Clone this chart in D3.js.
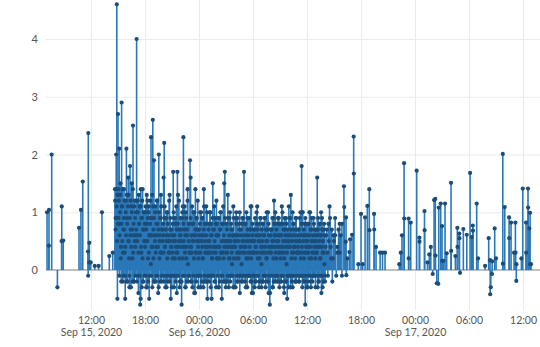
<!DOCTYPE html>
<html>
<head>
<meta charset="utf-8">
<script src="https://cdn.jsdelivr.net/npm/d3@7"></script>
<style>
  html, body { margin: 0; padding: 0; background: #fff; }
  svg { display: block; }
  .tick text { font-family: "Liberation Sans Narrow", "Lato", sans-serif; fill: #555; }
</style>
</head>
<body>
<svg id="chart" width="540" height="347"></svg>
<script>
// ---------------- DATA ----------------
// Sparse points before the dense burst (Sep 15 morning)
const leftTimes = ["2020-09-15 07:07","2020-09-15 07:19","2020-09-15 07:20","2020-09-15 07:38","2020-09-15 08:16",
  "2020-09-15 08:44","2020-09-15 08:45","2020-09-15 08:55","2020-09-15 10:40","2020-09-15 10:53","2020-09-15 11:05",
  "2020-09-15 11:40","2020-09-15 11:41","2020-09-15 11:42","2020-09-15 11:48","2020-09-15 11:49","2020-09-15 11:58",
  "2020-09-15 12:25","2020-09-15 12:51","2020-09-15 13:13","2020-09-15 14:02","2020-09-15 14:25"];
const leftValues = [1.0,0.42,1.04,2.0,-0.3,0.5,1.1,0.51,0.73,1.04,1.53,0.32,-0.1,2.37,0.13,0.47,0.13,0.07,0.07,1.0,0.24,0.3];

// Dense burst: one row per hour, values evenly spread through the hour
const denseHours = ["2020-09-15 14:40","2020-09-15 15:00","2020-09-15 16:00","2020-09-15 17:00","2020-09-15 18:00",
  "2020-09-15 19:00","2020-09-15 20:00","2020-09-15 21:00","2020-09-15 22:00","2020-09-15 23:00",
  "2020-09-16 00:00","2020-09-16 01:00","2020-09-16 02:00","2020-09-16 03:00","2020-09-16 04:00",
  "2020-09-16 05:00","2020-09-16 06:00","2020-09-16 07:00","2020-09-16 08:00","2020-09-16 09:00",
  "2020-09-16 10:00","2020-09-16 11:00","2020-09-16 12:00","2020-09-16 13:00","2020-09-16 14:00","2020-09-16 15:00"];
const denseSpanMin = [20,60,60,60,60,60,60,60,60,60,60,60,60,60,60,60,60,60,60,60,60,60,60,60,60,60];
// main readings (includes the spikes)
const denseRows = [
  [1.4,0.9,2.0,4.6,-0.5],
  [2.7,1.3,2.1,0.8,1.5,0.4,2.9,1.1,-0.2,0.7,1.4,0.3,-0.5,1.2,2.1],
  [0.9,1.3,1.6,0.5,-0.3,1.8,0.7,1.1,1.5,0.2,2.5,0.6,-0.2,1.2,0.4],
  [1.0,4.0,0.6,1.2,-0.4,0.8,1.1,-0.6,1.4,0.3,0.9,1.4,-0.2,0.7,1.0],
  [0.5,1.1,-0.3,0.8,1.2,0.2,1.0,-0.5,0.6,0.9,2.3,0.4,1.3,2.6,0.7],
  [1.9,0.6,1.0,-0.2,0.4,1.2,0.8,-0.4,2.0,0.5,0.9,0.3,1.1,-0.1,0.7],
  [0.8,1.6,2.2,0.4,-0.3,0.9,0.6,1.0,-0.2,0.5,0.3,1.3,0.7,-0.5,0.4],
  [0.6,0.2,1.7,0.9,-0.1,0.5,0.8,0.3,-0.4,1.7,1.3,0.4,0.7,-0.2,0.6],
  [0.5,-0.6,0.9,1.1,2.3,0.4,0.7,-0.3,1.0,0.2,0.6,1.4,-0.1,0.8,0.3],
  [1.9,1.6,0.4,-0.2,0.8,0.5,1.0,-0.4,0.6,1.4,0.3,0.9,-0.1,0.7,0.2],
  [0.7,0.3,1.0,-0.3,0.5,0.9,0.2,0.6,1.4,-0.2,0.8,0.4,1.1,0.3,-0.5],
  [0.5,0.8,-0.1,0.3,1.0,0.6,-0.5,0.2,1.5,0.7,0.4,-0.2,0.9,0.3,1.2],
  [0.6,0.2,0.9,-0.3,0.4,0.7,1.0,0.3,-0.5,0.5,0.8,0.2,1.5,1.7,0.4],
  [0.3,0.8,-0.2,1.3,0.5,0.2,0.9,-0.1,0.4,0.7,0.1,0.6,-0.3,0.9,0.4],
  [0.5,0.9,1.0,0.2,-0.2,0.6,0.3,0.8,-0.4,0.4,0.7,0.1,0.9,-0.1,0.5],
  [1.7,0.4,0.8,-0.3,0.2,0.6,0.9,0.3,-0.1,0.5,0.7,1.1,0.2,-0.4,0.6],
  [-0.4,0.5,0.3,0.7,-0.2,0.4,0.8,1.1,0.2,0.6,-0.3,0.5,0.9,0.3,0.1],
  [0.4,0.8,-0.2,0.6,0.3,0.9,-0.1,0.5,0.2,0.7,1.0,-0.4,0.4,-0.6,0.6],
  [0.3,0.7,0.5,-0.3,0.9,1.2,0.4,-0.2,0.6,0.2,0.8,-0.1,0.5,0.9,0.3],
  [0.6,0.2,-0.2,1.1,0.4,0.8,0.3,-0.4,0.7,0.5,0.9,0.1,-0.5,0.6,0.4],
  [0.5,0.9,-0.1,1.3,0.6,0.3,-0.3,0.8,0.4,0.7,0.2,-0.2,0.9,0.5,0.3],
  [0.4,0.7,-0.2,0.5,1.0,0.3,1.8,1.0,-0.1,0.6,0.2,0.8,-0.6,0.5,0.3],
  [0.6,-0.3,0.4,0.8,0.2,1.0,-0.2,0.5,0.7,0.3,-0.1,0.9,0.4,0.6,0.2],
  [0.5,0.3,1.6,0.7,-0.2,0.4,0.8,0.2,0.6,-0.4,0.9,0.3,0.5,0.7,0.1],
  [-0.2,0.6,0.3,0.8,1.1,0.4,0.7,0.2],
  [0.5,0.9,-0.1,0.4,0.7,0.3,0.6,0.8]
];
// additional readings in the same hours (interleaved between the main ones)
const denseRowsExtra = [
  [1.2,0.7,1.4,0.9,1.1,0.5,1.3,0.8],
  [1.4,0.9,1.2,-0.1,0.6,1.0,1.3,0.2,-0.2,0.8,1.1,0.5,1.4,0.3,-0.1,0.9,0.7,1.2,-0.1,0.4,1.0,0.6,-0.2,1.3],
  [0.8,-0.2,1.1,0.5,1.3,0.2,-0.1,0.9,0.6,1.2,-0.3,0.4,1.0,0.7,-0.2,1.4,0.3,0.8,-0.2,1.1,0.5,0.9,-0.1,0.6],
  [0.7,1.2,-0.2,0.5,1.0,-0.1,0.3,1.3,0.8,-0.1,0.6,1.1,-0.5,0.4,0.9,-0.3,1.2,0.2,0.7,-0.2,1.0,0.5,-0.1,0.8],
  [0.4,1.0,-0.1,0.7,1.3,-0.3,0.5,0.9,-0.2,1.1,0.3,0.6,-0.1,0.8,1.2,0.1,-0.1,0.6,0.9,-0.3,0.4,1.1,0.2,-0.2],
  [0.9,-0.2,0.5,1.1,0.3,-0.1,0.8,0.6,1.2,-0.1,0.4,0.7,-0.3,1.0,0.2,0.6,-0.2,0.9,1.3,0.3,-0.2,0.7,0.5,-0.1],
  [0.6,0.3,-0.2,0.9,1.1,0.4,-0.1,0.7,0.5,-0.3,1.0,0.2,0.8,-0.1,0.6,0.3,1.2,-0.2,0.5,0.9,-0.1,0.4,0.7,-0.3],
  [0.3,0.8,-0.1,0.5,1.0,-0.3,0.6,0.2,0.9,-0.2,0.4,1.1,0.7,-0.1,0.3,0.8,-0.1,0.5,1.2,0.2,-0.3,0.6,0.9,-0.2],
  [0.7,-0.2,0.4,1.0,0.2,-0.1,0.8,0.5,-0.1,1.1,0.3,0.6,-0.3,0.9,0.4,-0.2,0.7,1.2,0.1,-0.2,0.5,0.8,-0.1,0.3],
  [0.4,0.9,-0.2,0.6,0.3,1.1,-0.3,0.5,0.8,-0.1,0.2,1.0,0.6,-0.4,0.7,0.3,-0.2,0.9,0.5,-0.1,1.2,0.4,-0.3,0.6],
  [0.5,-0.1,0.8,0.3,-0.1,1.0,0.6,-0.2,0.4,0.9,0.2,-0.3,0.7,1.1,-0.1,0.5,0.3,-0.2,0.8,0.6,-0.2,1.0,0.4,-0.1],
  [0.3,0.7,-0.2,0.5,1.0,-0.1,0.4,-0.3,0.8,0.6,0.2,-0.1,0.9,0.3,-0.1,0.7,1.1,0.5,-0.2,0.4,0.8,-0.3,0.6,0.2],
  [0.8,-0.1,0.4,0.6,-0.3,0.9,0.2,-0.2,0.7,1.0,0.3,-0.1,0.5,0.8,-0.1,0.3,1.1,-0.2,0.6,0.4,-0.2,0.9,0.5,-0.3],
  [0.5,-0.2,0.7,0.3,-0.1,0.9,0.4,-0.3,0.6,0.2,1.0,-0.2,0.5,0.8,-0.1,0.3,0.7,-0.1,0.4,1.1,0.2,-0.3,0.6,0.5],
  [0.4,-0.3,0.6,0.8,-0.1,0.3,0.9,-0.2,0.5,0.2,-0.1,0.7,1.0,0.3,-0.1,0.6,0.4,-0.2,0.8,0.5,-0.2,0.3,0.9,-0.1],
  [0.6,0.3,-0.2,0.8,0.4,-0.1,1.0,0.5,-0.3,0.7,0.2,-0.1,0.6,0.9,-0.1,0.4,0.7,-0.2,0.3,1.1,-0.2,0.5,0.8,-0.1],
  [0.3,0.7,-0.1,0.5,-0.3,0.9,0.4,-0.2,0.6,1.0,-0.1,0.3,0.7,-0.1,0.5,0.8,-0.2,0.2,0.6,-0.2,0.9,0.4,-0.3,0.7],
  [0.5,-0.2,0.8,0.3,-0.1,0.6,0.9,-0.1,0.4,-0.3,0.7,0.2,1.0,-0.2,0.5,0.3,-0.2,0.8,0.6,-0.1,0.4,-0.4,0.7,0.3],
  [0.7,-0.1,0.4,0.9,-0.3,0.5,0.2,-0.2,0.8,0.6,-0.1,1.0,0.3,-0.1,0.7,0.5,-0.2,0.4,0.9,-0.2,0.6,0.3,-0.3,0.8],
  [0.4,0.8,-0.2,0.6,-0.1,0.3,1.0,-0.1,0.5,0.7,-0.3,0.2,0.9,-0.2,0.6,0.4,-0.2,0.8,0.3,-0.1,0.7,0.5,-0.3,1.1],
  [0.6,-0.1,0.4,0.9,-0.3,0.7,0.2,-0.2,0.5,1.0,-0.1,0.3,0.8,-0.1,0.6,0.4,-0.2,0.9,0.5,-0.2,0.7,0.3,-0.1,0.6],
  [0.3,0.7,-0.2,0.5,0.9,-0.1,0.6,0.2,-0.1,0.8,0.4,-0.3,1.0,0.5,-0.2,0.7,0.3,-0.2,0.6,0.9,-0.1,0.4,0.8,-0.3],
  [0.5,-0.2,0.8,0.3,-0.1,0.6,1.0,-0.1,0.4,0.7,-0.3,0.2,0.9,0.5,-0.2,0.6,-0.1,0.3,0.8,-0.1,0.5,0.7,-0.3,0.4],
  [0.7,0.3,-0.1,0.6,-0.3,0.9,0.4,-0.2,0.5,0.8,-0.1,0.2,0.6,1.0,-0.1,0.4,0.7,-0.3,0.5,0.3,-0.2,0.8,0.6,-0.1],
  [0.4,0.7,-0.1,0.5,0.9,0.2,-0.2,0.6],
  [0.6,0.3,0.8,-0.1]
];

// Sparse points after the burst (Sep 16 afternoon – Sep 17)
const rightTimes = ["2020-09-16 16:06","2020-09-16 16:08","2020-09-16 16:18","2020-09-16 16:20","2020-09-16 16:22",
  "2020-09-16 16:29","2020-09-16 16:42","2020-09-16 16:47","2020-09-16 17:00","2020-09-16 17:11","2020-09-16 17:12",
  "2020-09-16 17:42","2020-09-16 18:00","2020-09-16 18:11","2020-09-16 18:27","2020-09-16 18:42","2020-09-16 18:55",
  "2020-09-16 18:56","2020-09-16 19:27","2020-09-16 19:28","2020-09-16 19:40","2020-09-16 20:07","2020-09-16 20:23",
  "2020-09-16 20:40","2020-09-16 22:15","2020-09-16 22:25","2020-09-16 22:33","2020-09-16 22:47","2020-09-16 22:48",
  "2020-09-16 23:17","2020-09-16 23:18","2020-09-16 23:31",
  "2020-09-17 00:11","2020-09-17 00:29","2020-09-17 00:30","2020-09-17 01:03","2020-09-17 01:04","2020-09-17 01:23",
  "2020-09-17 01:35","2020-09-17 01:45","2020-09-17 01:58","2020-09-17 02:07","2020-09-17 02:15","2020-09-17 02:16",
  "2020-09-17 02:25","2020-09-17 02:35","2020-09-17 02:38","2020-09-17 02:51","2020-09-17 03:00","2020-09-17 03:01",
  "2020-09-17 03:10","2020-09-17 03:20","2020-09-17 03:31","2020-09-17 04:00","2020-09-17 04:01","2020-09-17 04:29",
  "2020-09-17 04:42","2020-09-17 04:43","2020-09-17 04:55","2020-09-17 04:56","2020-09-17 05:00","2020-09-17 05:22",
  "2020-09-17 05:45","2020-09-17 06:07","2020-09-17 06:18","2020-09-17 06:25","2020-09-17 06:26","2020-09-17 06:51",
  "2020-09-17 07:00","2020-09-17 07:47","2020-09-17 08:11","2020-09-17 08:20","2020-09-17 08:21","2020-09-17 08:25",
  "2020-09-17 08:33","2020-09-17 08:34","2020-09-17 08:51","2020-09-17 09:00","2020-09-17 09:45","2020-09-17 09:46",
  "2020-09-17 09:58","2020-09-17 10:27","2020-09-17 10:28","2020-09-17 10:40","2020-09-17 11:00","2020-09-17 11:09",
  "2020-09-17 11:10","2020-09-17 11:15","2020-09-17 11:16","2020-09-17 11:49","2020-09-17 11:58","2020-09-17 12:20",
  "2020-09-17 12:21","2020-09-17 12:33","2020-09-17 12:34","2020-09-17 12:42","2020-09-17 12:47","2020-09-17 12:48",
  "2020-09-17 12:53"];
const rightValues = [1.45,1.09,0.49,0.91,-0.09,0.2,0.31,0.53,0.61,2.31,1.67,
  0.1,0.97,0.1,0.91,1.11,1.4,0.69,0.97,0.7,0.4,0.3,0.3,0.3,0.1,0.3,0.6,1.85,0.89,0.89,0.2,0.82,
  1.72,0.56,0.49,1.02,0.69,0.13,0.27,0.4,-0.07,1.21,1.23,0.25,-0.23,-0.24,1.08,1.15,0.76,0.16,
  0.16,1.15,0.29,1.51,0.33,0.24,0.73,0.4,0.63,0.55,-0.05,0.71,0.61,1.68,0.57,0.77,0.68,1.15,
  0.2,0.07,0.55,0.17,-0.42,-0.3,-0.07,0.15,0.72,0.2,2.01,0.11,1.09,0.91,0.55,0.82,0.3,0.82,
  0.3,-0.19,0.1,0.2,1.41,0.82,0.3,1.41,1.08,0.72,0.99,0.1,0.1];

const yTicks = [0, 1, 2, 3, 4];
const xTickTimes = ["2020-09-15 12:00","2020-09-15 18:00","2020-09-16 00:00","2020-09-16 06:00","2020-09-16 12:00",
  "2020-09-16 18:00","2020-09-17 00:00","2020-09-17 06:00","2020-09-17 12:00"];
const xDomain = ["2020-09-15 07:00", "2020-09-17 13:53"];
const yDomain = [-0.693, 4.675];

// ---------------- BUILD ----------------
const parse = d3.timeParse("%Y-%m-%d %H:%M");
const points = [];
leftTimes.forEach((t, i) => points.push({ t: parse(t), v: leftValues[i] }));
function addRows(rows, offset) {
  rows.forEach((row, r) => {
    const start = parse(denseHours[r]);
    const step = denseSpanMin[r] / row.length;
    row.forEach((v, i) => points.push({ t: new Date(start.getTime() + (i + offset) * step * 60000), v }));
  });
}
addRows(denseRowsExtra, 0.5);
addRows(denseRows, 0);
rightTimes.forEach((t, i) => points.push({ t: parse(t), v: rightValues[i] }));

const svg = d3.select("#chart");
const x = d3.scaleTime().domain(xDomain.map(parse)).range([46, 540]);
const y = d3.scaleLinear().domain(yDomain).range([310, 0]);

// grid
const gx = svg.append("g").attr("transform", "translate(0,310)")
  .call(d3.axisBottom(x).tickValues(xTickTimes.map(parse)).tickSize(-310).tickFormat(""));
gx.select(".domain").remove();
gx.selectAll(".tick line").attr("stroke", "#ebebeb").attr("stroke-width", 1);

const gy = svg.append("g").attr("transform", "translate(46,0)")
  .call(d3.axisLeft(y).tickValues(yTicks).tickSize(-494).tickPadding(8).tickFormat(d3.format("d")));
gy.select(".domain").remove();
gy.selectAll(".tick line").attr("stroke", d => d === 0 ? "none" : "#ebebeb").attr("stroke-width", 1);
gy.selectAll(".tick text").attr("font-size", 11).attr("fill", "#555");

// zero line
svg.append("line").attr("x1", 46).attr("x2", 540).attr("y1", y(0)).attr("y2", y(0))
  .attr("stroke", "#aaaaaa").attr("stroke-width", 1.5);

// x labels
const fmtTime = d3.timeFormat("%H:%M");
const fmtDate = d3.timeFormat("%b %-d, %Y");
const gxl = svg.append("g").attr("transform", "translate(0,310)")
  .call(d3.axisBottom(x).tickValues(xTickTimes.map(parse)).tickSize(0).tickPadding(7).tickFormat(""));
gxl.select(".domain").remove();
gxl.selectAll(".tick text").each(function(d, i) {
  const t = d3.select(this).attr("font-size", 10.5).attr("fill", "#555");
  t.append("tspan").attr("x", 0).text(fmtTime(d));
  if (i === 0 || d.getHours() === 0) {
    t.append("tspan").attr("x", 0).attr("dy", "1.1em").text(fmtDate(d));
  }
});

// stems
svg.append("g").selectAll("line").data(points).join("line")
  .attr("x1", d => x(d.t)).attr("x2", d => x(d.t))
  .attr("y1", y(0)).attr("y2", d => y(d.v))
  .attr("stroke", "#2a78b8").attr("stroke-width", 1.6);

// markers
svg.append("g").selectAll("circle").data(points).join("circle")
  .attr("cx", d => x(d.t)).attr("cy", d => y(d.v)).attr("r", 2.1)
  .attr("fill", "#1c4d78");
</script>
</body>
</html>
